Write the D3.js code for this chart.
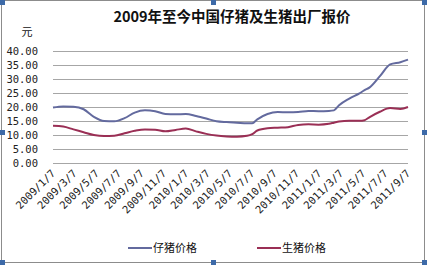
<!DOCTYPE html>
<html>
<head>
<meta charset="utf-8">
<script src="https://cdn.jsdelivr.net/npm/d3@7"></script>
<style>
  body { margin: 0; background: #fff; }
  svg text { font-family: "DejaVu Sans Mono", "Noto Sans CJK SC", monospace; }
</style>
</head>
<body>
<svg id="render" width="427" height="265"></svg>
<script>
// weekly-ish sample dates
const dates = [
  "2009-01-07","2009-02-04","2009-03-04","2009-04-01","2009-04-29","2009-05-27",
  "2009-06-24","2009-07-22","2009-08-19","2009-09-16","2009-10-14","2009-11-11",
  "2009-12-09","2010-01-06","2010-02-03","2010-03-03","2010-03-31","2010-04-28",
  "2010-05-26","2010-06-23","2010-07-07","2010-07-21","2010-08-18","2010-09-15",
  "2010-10-13","2010-11-10","2010-12-08","2011-01-05","2011-02-02","2011-02-16",
  "2011-03-02","2011-03-30","2011-04-27","2011-05-11","2011-05-25","2011-06-22",
  "2011-07-20","2011-08-17","2011-09-07"
];
const piglet = [
  19.8, 20.2, 20.1, 19.2, 16.5, 15.0,
  14.9, 16.0, 18.0, 18.8, 18.5, 17.5,
  17.4, 17.5, 16.8, 15.9, 14.9, 14.6,
  14.4, 14.2, 14.2, 15.6, 17.5, 18.2,
  18.1, 18.2, 18.6, 18.5, 18.6, 18.8,
  20.6, 23.0, 24.9, 26.0, 27.0, 31.0,
  35.2, 36.0, 36.9
];
const hog = [
  13.3, 13.0, 12.0, 11.0, 10.0, 9.6,
  9.7, 10.6, 11.5, 12.0, 11.9, 11.3,
  11.8, 12.3, 11.3, 10.4, 9.8, 9.5,
  9.4, 9.7, 10.3, 11.6, 12.4, 12.6,
  12.8, 13.6, 13.8, 13.7, 14.0, 14.4,
  14.8, 15.1, 15.1, 15.3, 16.4, 18.3,
  19.6, 19.3, 20.0
];
const xTickLabels = [
  "2009/1/7","2009/3/7","2009/5/7","2009/7/7","2009/9/7","2009/11/7",
  "2010/1/7","2010/3/7","2010/5/7","2010/7/7","2010/9/7","2010/11/7",
  "2011/1/7","2011/3/7","2011/5/7","2011/7/7","2011/9/7"
];
const yTicks = [0, 5, 10, 15, 20, 25, 30, 35, 40];
const seriesNames = ["仔猪价格", "生猪价格"];
const seriesColors = ["#636a9e", "#9a2f55"];

const parseDash = d3.timeParse("%Y-%m-%d");
const parseSlash = d3.timeParse("%Y/%m/%d");
const xDates = dates.map(parseDash);
const tickDates = xTickLabels.map(parseSlash);

const svg = d3.select("svg#render");

const x = d3.scaleTime()
    .domain([tickDates[0], tickDates[tickDates.length - 1]])
    .range([53, 408]);
const y = d3.scaleLinear()
    .domain([0, 40])
    .range([163, 51]);

// frame
svg.append("rect")
    .attr("x", 1.5).attr("y", 0.5)
    .attr("width", 423).attr("height", 262)
    .attr("fill", "none")
    .attr("stroke", "#8c8c8c");

// title
svg.append("text")
    .attr("x", 232).attr("y", 22)
    .attr("text-anchor", "middle")
    .attr("font-size", 14.5)
    .attr("font-weight", "bold")
    .style("font-family", "'Noto Sans CJK SC', sans-serif")
    .attr("fill", "#111")
    .text("2009年至今中国仔猪及生猪出厂报价");

svg.append("text")
    .attr("x", 27).attr("y", 36)
    .attr("text-anchor", "middle")
    .attr("font-size", 11)
    .style("font-family", "'Noto Sans CJK SC', sans-serif")
    .attr("fill", "#111")
    .text("元");

// gridlines + y labels
const grid = svg.append("g");
grid.selectAll("line")
    .data(yTicks)
    .enter()
    .append("line")
    .attr("x1", 53).attr("x2", 408)
    .attr("y1", d => y(d) + 0.5).attr("y2", d => y(d) + 0.5)
    .attr("stroke", "#a6a6a6")
    .attr("stroke-width", 1);

grid.selectAll("text")
    .data(yTicks)
    .enter()
    .append("text")
    .attr("x", 38)
    .attr("y", d => y(d))
    .attr("dy", "0.35em")
    .attr("text-anchor", "end")
    .attr("font-size", 10.5)
    .attr("fill", "#222")
    .text(d => d3.format(".2f")(d));

// x labels, rotated
svg.append("g")
    .selectAll("text")
    .data(tickDates)
    .enter()
    .append("text")
    .attr("transform", d => `translate(${x(d) + 3}, 174) rotate(-45)`)
    .attr("text-anchor", "end")
    .attr("font-size", 10.5)
    .attr("fill", "#222")
    .text((d, i) => xTickLabels[i]);

// lines
const line = d3.line()
    .x((d, i) => x(xDates[i]))
    .y(d => y(d))
    .curve(d3.curveMonotoneX);

svg.append("g")
    .selectAll("path")
    .data([piglet, hog])
    .enter()
    .append("path")
    .attr("d", d => line(d))
    .attr("fill", "none")
    .attr("stroke", (d, i) => seriesColors[i])
    .attr("stroke-width", 2);

// legend
const legendX = [128, 257];
const lg = svg.append("g")
    .selectAll("g")
    .data(seriesNames)
    .enter()
    .append("g")
    .attr("transform", (d, i) => `translate(${legendX[i]}, 248)`);
lg.append("line")
    .attr("x1", 0).attr("x2", 24)
    .attr("stroke", (d, i) => seriesColors[i])
    .attr("stroke-width", 2);
lg.append("text")
    .attr("x", 25)
    .attr("dy", "0.35em")
    .attr("font-size", 11)
    .style("font-family", "'Noto Sans CJK SC', sans-serif")
    .attr("fill", "#111")
    .text(d => d);

// selection handles
const handles = [[0,0],[211,0],[422,0],[0,130],[422,130],[0,260],[211,260],[422,260]];
svg.append("g")
    .selectAll("rect")
    .data(handles)
    .enter()
    .append("rect")
    .attr("x", d => d[0]).attr("y", d => d[1])
    .attr("width", 5).attr("height", 5)
    .attr("fill", "#3d6aa8");
</script>
</body>
</html>
